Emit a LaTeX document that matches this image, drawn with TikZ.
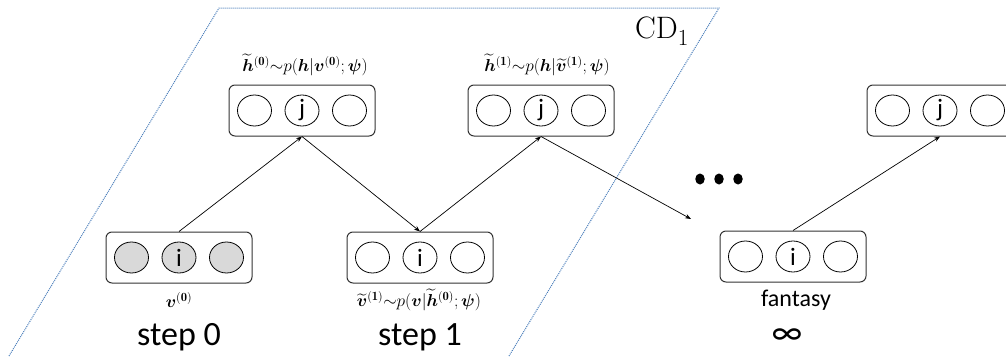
\documentclass[tikz,border=0pt]{standalone}
\usepackage{amsmath}
\usepackage{bm}
\usepackage{fontspec}
\newfontfamily\calibri{Carlito}
\usetikzlibrary{arrows.meta,shapes.geometric}

\definecolor{cdblue}{RGB}{74,126,187}
\definecolor{unitgray}{RGB}{217,217,217}
\definecolor{edgegray}{RGB}{50,50,50}

\tikzset{
  layerbox/.style={draw=edgegray, line width=1pt, rounded corners=6pt,
    minimum width=146pt, minimum height=51pt, inner sep=0pt},
  unit/.style={draw=black, line width=0.8pt, ellipse, inner sep=0pt,
    minimum width=34pt, minimum height=31pt,
    font=\calibri\fontsize{25}{25}\selectfont},
  shaded/.style={fill=unitgray},
  dot/.style={fill=black, ellipse, draw=none, inner sep=0pt,
    minimum width=9.5pt, minimum height=11pt},
  link/.style={draw=black, line width=0.7pt, -{Stealth[length=6pt,width=4.5pt]}},
  cdline/.style={draw=cdblue, line width=1pt, dash pattern=on 1pt off 1pt},
  mathlabel/.style={font=\fontsize{18}{18}\selectfont, inner sep=0pt},
  steplabel/.style={font=\calibri\fontsize{34}{34}\selectfont, inner sep=0pt},
  smalllabel/.style={font=\calibri\fontsize{24}{24}\selectfont, inner sep=0pt},
}

\begin{document}
\begin{tikzpicture}[x=1pt,y=-1pt]
  \clip (0,0) rectangle (1006,356);

  % CD_1 region (three dotted edges)
  \coordinate (cdA) at (9,356);
  \coordinate (cdB) at (219,8);
  \coordinate (cdC) at (719,8);
  \coordinate (cdD) at (509,356);
  \draw[cdline] (cdA) -- (cdB) -- (cdC) -- (cdD);
  \node[font=\fontsize{31}{31}\selectfont, anchor=base west, inner sep=0pt] (cd) at (635,38)
    {CD\raisebox{-7pt}{\fontsize{23}{23}\selectfont 1}};

  % step 0: data layer
  \node[layerbox] (v0) at (179,257.5) {};
  \node[unit, shaded] (v0a) at ([xshift=-47.5pt]v0.center) {};
  \node[unit, shaded] (v0b) at (v0.center) {i};
  \node[unit, shaded] (v0c) at ([xshift=47.5pt]v0.center) {};

  % hidden layer after step 0
  \node[layerbox] (h0) at (302,110.5) {};
  \node[unit] (h0a) at ([xshift=-47.5pt]h0.center) {};
  \node[unit] (h0b) at (h0.center) {j};
  \node[unit] (h0c) at ([xshift=47.5pt]h0.center) {};

  % step 1: reconstruction
  \node[layerbox] (v1) at (420,257.5) {};
  \node[unit] (v1a) at ([xshift=-47.5pt]v1.center) {};
  \node[unit] (v1b) at (v1.center) {i};
  \node[unit] (v1c) at ([xshift=47.5pt]v1.center) {};

  % hidden layer after step 1
  \node[layerbox] (h1) at (541,110.5) {};
  \node[unit] (h1a) at ([xshift=-47.5pt]h1.center) {};
  \node[unit] (h1b) at (h1.center) {j};
  \node[unit] (h1c) at ([xshift=47.5pt]h1.center) {};

  % fantasy particle
  \node[layerbox] (vf) at (793,256.5) {};
  \node[unit] (vfa) at ([xshift=-47.5pt]vf.center) {};
  \node[unit] (vfb) at (vf.center) {i};
  \node[unit] (vfc) at ([xshift=47.5pt]vf.center) {};

  \node[layerbox] (hf) at (940,110.5) {};
  \node[unit] (hfa) at ([xshift=-47.5pt]hf.center) {};
  \node[unit] (hfb) at (hf.center) {j};
  \node[unit] (hfc) at ([xshift=47.5pt]hf.center) {};

  % labels
  \node[mathlabel] (lh0) at (305,65)
    {$\widetilde{\bm h}^{(\mathbf 0)}{\sim}p(\bm h|\bm v^{(\mathbf 0)};\bm\psi)$};
  \node[mathlabel] (lh1) at (547,65)
    {$\widetilde{\bm h}^{(\mathbf 1)}{\sim}p(\bm h|\widetilde{\bm v}^{(\mathbf 1)};\bm\psi)$};
  \node[mathlabel] (lv0) at (179,300) {$\bm v^{(\mathbf 0)}$};
  \node[mathlabel] (lv1) at (419,300)
    {$\widetilde{\bm v}^{(\mathbf 1)}{\sim}p(\bm v|\widetilde{\bm h}^{(\mathbf 0)};\bm\psi)$};
  \node[steplabel, anchor=base] (s0) at (179,345) {step 0};
  \node[steplabel, anchor=base] (s1) at (420,345) {step 1};
  \node[smalllabel, anchor=base] (fan) at (796,306) {fantasy};
  \node[font=\calibri\fontsize{36}{36}\selectfont, inner sep=0pt, anchor=base] (inf) at (787,344) {∞};

  % ellipsis between step 1 and the fantasy particle
  \node[dot] (d1) at (700,179) {};
  \node[dot] (d2) at (719,179) {};
  \node[dot] (d3) at (738,179) {};

  % Gibbs chain
  \coordinate (chainend) at (691,219);
  \draw[link] (v0.north) -- (h0.south);
  \draw[link] (h0.south) -- (v1.north);
  \draw[link] (v1.north) -- (h1.south);
  \draw[link] (h1.south) -- (chainend);
  \draw[link] (vf.north) -- (hf.south);
\end{tikzpicture}
\end{document}
